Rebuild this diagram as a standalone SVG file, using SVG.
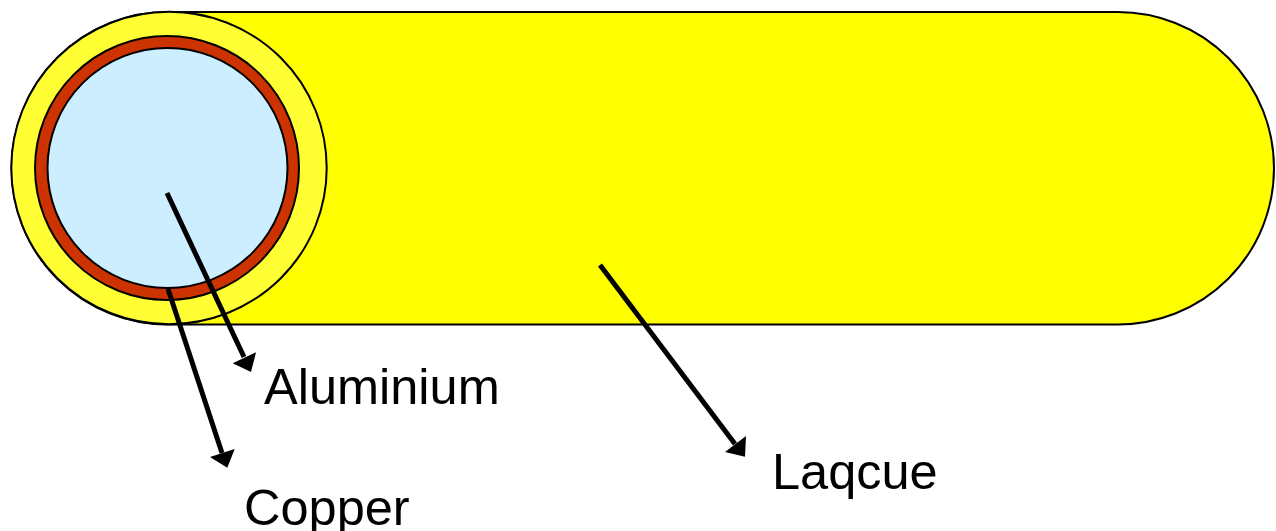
<svg xmlns="http://www.w3.org/2000/svg" width="1276" height="531" viewBox="0 0 1276 531">
<style>
.o{stroke:#000;stroke-width:2}
.c{stroke:#000;stroke-width:5;fill:none}
.h{fill:#000;stroke:none}
.t{font-family:"Liberation Sans",Arial,sans-serif;font-size:50.5px;fill:#000}
</style>
<rect width="1276" height="531" fill="#fff"/>
<g id="laqcue-body"><rect class="o" x="11.5" y="12" width="1262.5" height="312.5" rx="156.25" ry="156.25" fill="#ffff00"/></g>
<g id="laqcue-ring"><ellipse class="o" cx="169" cy="168" rx="157.7" ry="156.2" fill="#ffff33"/></g>
<g id="copper-ring"><circle class="o" cx="167" cy="168" r="132" fill="#cc3300"/></g>
<g id="aluminium-core"><circle class="o" cx="167.5" cy="168" r="120" fill="#cceeff"/></g>
<g id="connectors">
<line class="c" x1="167" y1="193" x2="244" y2="357"/>
<polygon class="h" points="251,372 232.7,363.3 256,352.3"/>
<line class="c" x1="168" y1="289" x2="222" y2="453"/>
<polygon class="h" points="227.3,467.7 210,457 234.7,449"/>
<line class="c" x1="600" y1="265" x2="735" y2="444"/>
<polygon class="h" points="745,456.7 725,452 746,436"/>
</g>
<g id="label-aluminium"><text class="t" x="264" y="404">Aluminium</text></g>
<g id="label-copper"><text class="t" x="244" y="525">Copper</text></g>
<g id="label-laqcue"><text class="t" x="772" y="488.5">Laqcue</text></g>
</svg>
